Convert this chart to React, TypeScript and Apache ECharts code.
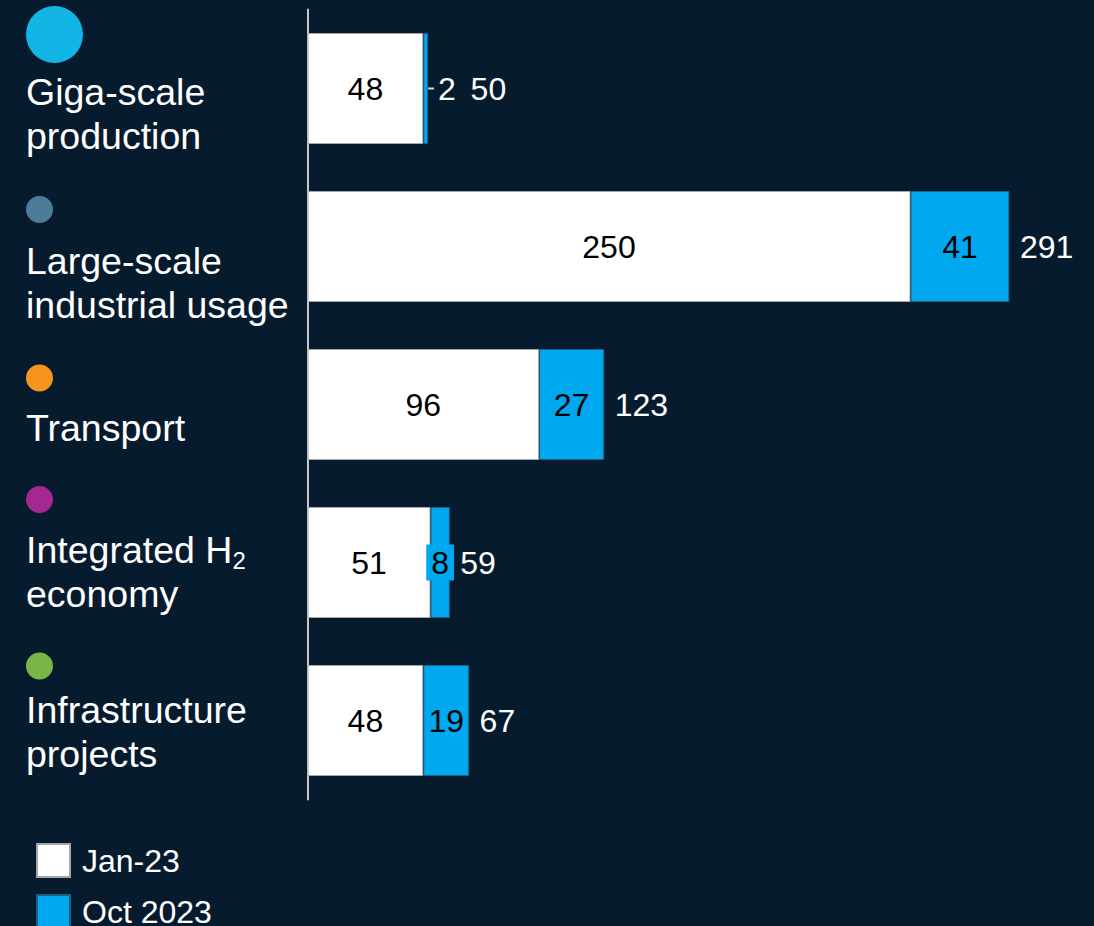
import React, { useEffect, useRef } from "react";
import * as echarts from "echarts";

const categories = [
  "Giga-scale production",
  "Large-scale industrial usage",
  "Transport",
  "Integrated H2 economy",
  "Infrastructure projects",
];
const categoryLines = [
  ["Giga-scale", "production"],
  ["Large-scale", "industrial usage"],
  ["Transport"],
  ["Integrated H2", "economy"],
  ["Infrastructure", "projects"],
];
const categoryColors = ["#13b5e5", "#4d7c9a", "#f7941d", "#a3288f", "#7ab547"];
const seriesNames = ["Jan-23", "Oct 2023"];
const jan23 = [48, 250, 96, 51, 48];
const oct2023 = [2, 41, 27, 8, 19];

const FONT = "'Liberation Sans', Arial, sans-serif";
const BG = "#061c2e";
const BLUE = "#00a8f0";

// layout-only tuning for the left category labels
const circleSizes = [57, 27, 27, 27, 27];
const circleLines = [71, 59, 56, 57, 44];
const labelPads = [
  [0, 0, 20, 0],
  [14, 0, 0, 0],
  [0, 0, 9, 0],
  [0, 0, 38, 0],
  [0, 0, 21, 0],
];

export default function App() {
  const ref = useRef<HTMLDivElement>(null);
  useEffect(() => {
    if (!ref.current) return;
    const chart = echarts.init(ref.current, undefined, { renderer: "svg" });
    const totals = jan23.map((v, i) => v + oct2023[i]);

    const rich: any = {
      t: { fontSize: 37.5, lineHeight: 44, color: "#ffffff", fontFamily: FONT },
      sub: {
        fontSize: 24,
        lineHeight: 24,
        color: "#ffffff",
        fontFamily: FONT,
        verticalAlign: "bottom",
      },
    };
    categoryColors.forEach((c, i) => {
      rich["c" + i] = {
        width: circleSizes[i],
        height: circleSizes[i],
        lineHeight: circleLines[i],
        borderRadius: circleSizes[i] / 2,
        backgroundColor: c,
      };
    });

    const option: any = {
      animation: false,
      backgroundColor: BG,
      textStyle: { fontFamily: FONT },
      legend: {
        data: seriesNames,
        orient: "vertical",
        left: 36,
        top: 843,
        height: 120,
        padding: 0,
        itemWidth: 33,
        itemHeight: 33,
        itemGap: 16,
        icon: "rect",
        textStyle: {
          color: "#ffffff",
          fontSize: 32,
          lineHeight: 33,
          fontFamily: FONT,
          padding: [0, 0, 0, 7],
        },
      },
      grid: {
        left: 307.5,
        top: 9.5,
        width: 723.6,
        height: 790,
        containLabel: false,
        outerBoundsMode: "none",
      },
      xAxis: {
        type: "value",
        min: 0,
        max: 300,
        show: false,
        splitLine: { show: false },
      },
      yAxis: {
        type: "category",
        inverse: true,
        data: categories.map((c, i) => ({
          value: c,
          textStyle: {
            padding: labelPads[i],
            align: "left",
            verticalAlign: "middle",
          },
        })),
        axisTick: { show: false },
        axisLine: { show: true, lineStyle: { color: "#c8c8c8", width: 2 } },
        axisLabel: {
          align: "left",
          margin: 281.5,
          formatter: (_v: string, idx: number) => {
            const lines = categoryLines[idx].map((l) =>
              l.endsWith(" H2") ? `{t|${l.slice(0, -1)}}{sub|2}` : `{t|${l}}`
            );
            return `{c${idx}|}\n` + lines.join("\n");
          },
          rich,
        },
      },
      series: [
        {
          type: "bar",
          name: seriesNames[0],
          stack: "total",
          barWidth: 111,
          data: jan23,
          itemStyle: { color: "#ffffff", borderColor: "#a6a6a6", borderWidth: 1 },
          label: {
            show: true,
            position: "inside",
            color: "#000000",
            fontSize: 32,
            fontFamily: FONT,
          },
        },
        {
          type: "bar",
          name: seriesNames[1],
          stack: "total",
          barWidth: 111,
          data: oct2023.map((v, i) =>
            i === 0
              ? {
                  value: v,
                  label: {
                    position: "right",
                    distance: 0,
                    backgroundColor: "transparent",
                    padding: 0,
                    formatter: "{d|}{v|{c}}",
                    rich: {
                      d: { width: 6, height: 2, backgroundColor: "#d9d9d9" },
                      v: {
                        color: "#ffffff",
                        fontSize: 32,
                        fontFamily: FONT,
                        padding: [0, 0, 0, 4],
                      },
                    },
                  },
                }
              : i === 3
              ? { value: v, label: { padding: [3, 5, 1, 5] } }
              : v
          ),
          itemStyle: { color: BLUE, borderColor: "#1f5f86", borderWidth: 1 },
          label: {
            show: true,
            position: "inside",
            color: "#000000",
            fontSize: 32,
            fontFamily: FONT,
            backgroundColor: BLUE,
            padding: [3, 2, 1, 2],
          },
        },
        {
          type: "scatter",
          name: "Total",
          symbolSize: 1,
          itemStyle: { color: "rgba(0,0,0,0)", opacity: 1 },
          silent: true,
          data: totals.map((t, i) =>
            i === 0
              ? { value: [t, i], label: { distance: 42 } }
              : { value: [t, i] }
          ),
          label: {
            show: true,
            position: "right",
            distance: 10,
            color: "#ffffff",
            opacity: 1,
            fontSize: 32,
            fontFamily: FONT,
            formatter: (p: any) => String(p.value[0]),
          },
        },
      ],
    };
    chart.setOption(option);
    return () => chart.dispose();
  }, []);

  return (
    <div
      ref={ref}
      style={{
        position: "absolute",
        left: 0,
        top: 0,
        width: 1094,
        height: 926,
        background: BG,
      }}
    />
  );
}
